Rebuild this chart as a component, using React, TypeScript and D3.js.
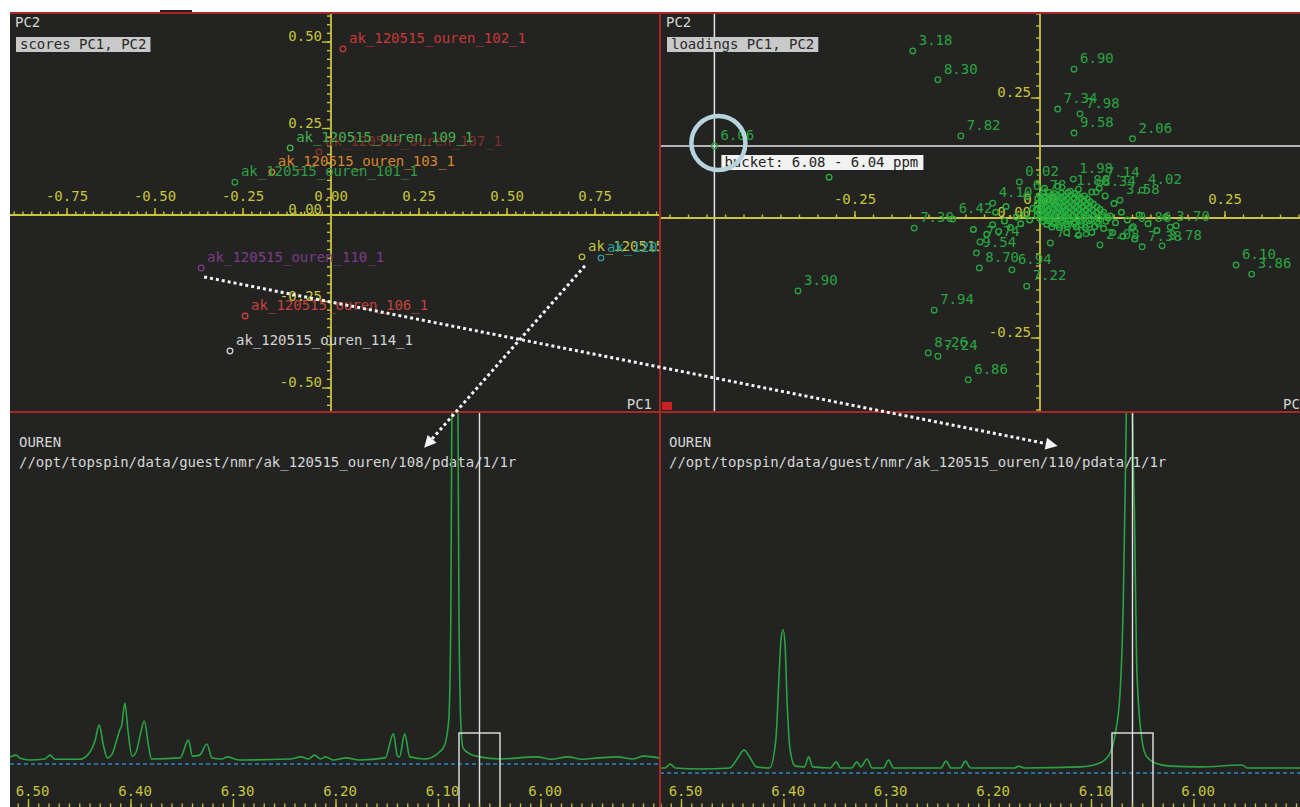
import React from "react";
import * as d3 from "d3";

// ---------- PCA scores (PC1 / PC2) ----------
const sampleNames = [
  "ak_120515_ouren_107_1",
  "ak_120515_ouren_102_1",
  "ak_120515_ouren_109_1",
  "ak_120515_ouren_103_1",
  "ak_120515_ouren_101_1",
  "ak_120515_ouren_110_1",
  "ak_120515_ouren_106_1",
  "ak_120515_ouren_114_1",
  "ak_120515_ouren_108_1",
  "ak_120515_ouren_105_1",
];
const scorePC1 = [-0.034, 0.034, -0.116, -0.168, -0.273, -0.369, -0.244, -0.287, 0.713, 0.767];
const scorePC2 = [0.182, 0.48, 0.194, 0.124, 0.095, -0.153, -0.292, -0.393, -0.121, -0.124];

// ---------- PCA loadings (labelled buckets, ppm) ----------
const loadingLabels = [
  "3.18", "8.30", "7.82", "6.06", "6.90", "7.34", "7.98", "9.58", "2.06",
  "7.30", "6.42", "3.90", "7.94", "8.26", "7.24", "6.86", "6.10", "3.86",
  "7.22", "6.94", "9.54", "8.70", "7.74", "0.02", "1.98", "4.10", "6.78",
  "1.86", "7.14", "8.34", "4.02", "3.58", "3.70", "0.86", "2.08", "7.38",
  "3.78", "7.28",
];
const loadingPC1 = [
  -0.172, -0.138, -0.107, -0.44, 0.046, 0.024, 0.054, 0.046, 0.125,
  -0.17, -0.118, -0.327, -0.143, -0.151, -0.138, -0.097, 0.265, 0.286,
  -0.018, -0.038, -0.086, -0.082, -0.081, -0.028, 0.045, -0.064, -0.018,
  0.041, 0.081, 0.076, 0.138, 0.108, 0.176, 0.124, 0.081, 0.138,
  0.165, 0.014,
];
const loadingPC2 = [
  0.348, 0.288, 0.171, 0.15, 0.31, 0.227, 0.217, 0.177, 0.165,
  -0.021, -0.002, -0.152, -0.192, -0.281, -0.288, -0.337, -0.098, -0.117,
  -0.142, -0.108, -0.073, -0.104, -0.05, 0.075, 0.081, 0.031, 0.046,
  0.056, 0.073, 0.054, 0.058, 0.037, -0.019, -0.021, -0.056, -0.06,
  -0.058, -0.052,
];

// unlabelled buckets crowding the origin
const bucketLoadings: [number, number][] = [
  [-0.285, 0.085],
  // dense core
  [0.004, 0.052], [0.012, 0.053], [0.02, 0.051], [0.029, 0.052], [0.038, 0.053], [0.047, 0.051],
  [0.0, 0.047], [0.008, 0.046], [0.016, 0.048], [0.024, 0.047], [0.033, 0.046], [0.042, 0.048], [0.051, 0.047], [0.06, 0.046],
  [-0.003, 0.041], [0.005, 0.042], [0.013, 0.04], [0.021, 0.041], [0.029, 0.042], [0.037, 0.04], [0.046, 0.041], [0.055, 0.042], [0.064, 0.04],
  [0.001, 0.035], [0.009, 0.036], [0.017, 0.034], [0.025, 0.035], [0.033, 0.036], [0.041, 0.034], [0.05, 0.035], [0.059, 0.036], [0.068, 0.034],
  [-0.004, 0.029], [0.004, 0.03], [0.012, 0.028], [0.02, 0.029], [0.028, 0.03], [0.036, 0.028], [0.045, 0.029], [0.054, 0.03], [0.063, 0.028], [0.072, 0.029],
  [0.0, 0.023], [0.008, 0.024], [0.016, 0.022], [0.024, 0.023], [0.032, 0.024], [0.04, 0.022], [0.049, 0.023], [0.058, 0.024], [0.067, 0.022], [0.077, 0.023],
  [-0.005, 0.017], [0.003, 0.018], [0.011, 0.016], [0.019, 0.017], [0.027, 0.018], [0.035, 0.016], [0.044, 0.017], [0.053, 0.018], [0.062, 0.016], [0.071, 0.017], [0.081, 0.018],
  [-0.001, 0.011], [0.007, 0.012], [0.015, 0.01], [0.023, 0.011], [0.031, 0.012], [0.039, 0.01], [0.048, 0.011], [0.057, 0.012], [0.066, 0.01], [0.076, 0.011], [0.086, 0.012],
  [-0.004, 0.005], [0.004, 0.006], [0.012, 0.004], [0.02, 0.005], [0.028, 0.006], [0.036, 0.004], [0.045, 0.005], [0.054, 0.006], [0.063, 0.004], [0.073, 0.005], [0.084, 0.006],
  [0.0, -0.001], [0.008, 0.0], [0.016, -0.002], [0.024, -0.001], [0.032, 0.0], [0.041, -0.002], [0.05, -0.001], [0.059, 0.0], [0.069, -0.002], [0.08, -0.001], [0.092, 0.0],
  [0.004, -0.007], [0.012, -0.006], [0.02, -0.008], [0.029, -0.007], [0.038, -0.006], [0.047, -0.008], [0.056, -0.007], [0.066, -0.006], [0.077, -0.008], [0.089, -0.007],
  [0.009, -0.013], [0.018, -0.012], [0.027, -0.014], [0.036, -0.013], [0.046, -0.012], [0.056, -0.014], [0.067, -0.013], [0.079, -0.012],
  [0.016, -0.019], [0.026, -0.02], [0.037, -0.018], [0.049, -0.019], [0.061, -0.02], [0.074, -0.018],
  // sparser spread to the right and below
  [0.095, 0.004], [0.102, -0.01], [0.11, 0.012], [0.118, -0.004], [0.126, -0.018], [0.134, 0.006], [0.146, -0.012],
  [0.158, -0.026], [0.17, 0.002], [0.184, -0.016], [0.098, -0.03], [0.112, -0.038], [0.128, -0.044], [0.086, -0.022],
  [0.07, -0.03], [0.052, -0.036], [0.036, -0.03],
  // left fringe
  [-0.01, 0.02], [-0.014, -0.004], [-0.02, 0.008], [-0.026, -0.012], [-0.032, 0.002], [-0.04, -0.02], [-0.048, -0.006],
  [-0.056, -0.028], [-0.064, -0.014], [-0.072, -0.034], [-0.09, -0.024], [-0.046, 0.024], [-0.06, 0.012],
  // upper fringe
  [0.006, 0.062], [0.024, 0.066], [0.052, 0.06], [0.07, 0.054], [0.088, 0.046], [0.1, 0.03], [0.08, 0.062],
];

// ---------- axis ticks ----------
const scoreXTicks = [-0.75, -0.5, -0.25, 0, 0.25, 0.5, 0.75];
const scoreYTicks = [-0.5, -0.25, 0, 0.25, 0.5];
const loadingXTicks = [-0.25, 0, 0.25];
const loadingYTicks = [-0.25, 0, 0.25];
const ppmTicks = [6.5, 6.4, 6.3, 6.2, 6.1, 6.0];

// selected bucket (ppm)
const bucketFrom = 6.08;
const bucketTo = 6.04;
const bucketCentre = 6.06;
const bucketLabel = "6.06";

// ---------- 1D 1H spectra, [ppm, intensity] ----------
const spectrum108: [number, number][] = [
  [6.52, 0.6], [6.512, 1.4], [6.508, 0.5], [6.499, 0], [6.484, 0.3], [6.479, 1.4], [6.474, 0.2], [6.45, 0.2],
  [6.44, 2.3], [6.435, 5.7], [6.431, 10.1], [6.427, 4.3], [6.423, 0.6], [6.419, 1.4], [6.414, 5.7], [6.411, 8.6],
  [6.409, 10.1], [6.406, 16.4], [6.403, 8.6], [6.399, 1.1], [6.395, 2.3], [6.391, 7.2], [6.387, 11.2], [6.383, 4.3],
  [6.38, 0.3], [6.352, 0.6], [6.344, 5.7], [6.34, 1.1], [6.333, 1.4], [6.326, 4.6], [6.321, 0.6], [6.311, 0.3],
  [6.306, 0.9], [6.294, 0], [6.245, 0.3], [6.234, 0.9], [6.227, 0.3], [6.221, 1.4], [6.215, 0.3], [6.21, 0.9],
  [6.203, 0], [6.19, 0.6], [6.177, 0], [6.152, 0.6], [6.144, 7.5], [6.14, 1.1], [6.138, 0.9], [6.133, 7.5],
  [6.128, 0.9], [6.113, 0.3], [6.099, 2.3], [6.094, 4.3], [6.09, 11.5], [6.088, 40], [6.087, 100], [6.085, 170],
  [6.083, 170], [6.081, 100], [6.08, 40], [6.078, 9], [6.076, 3.4], [6.069, 1.7], [6.06, 0.9], [6.04, 0.3],
  [6.004, 0.9], [5.99, 0.2], [5.974, 0.9], [5.96, 0.2], [5.944, 0.6], [5.926, 0.9], [5.91, 0.3], [5.9, 1.1], [5.88, 0.3],
];
const spectrum110: [number, number][] = [
  [6.522, 0.3], [6.516, 0.3], [6.511, 1.4], [6.506, 0.3], [6.482, 0], [6.453, 0.3], [6.445, 3.1], [6.439, 5.3],
  [6.433, 3.1], [6.427, 0.6], [6.414, 0.3], [6.408, 8.1], [6.405, 25], [6.403, 36], [6.401, 39], [6.399, 35],
  [6.397, 19], [6.394, 5.3], [6.389, 0.8], [6.38, 0.6], [6.376, 3.4], [6.372, 0.6], [6.355, 0.3], [6.349, 2],
  [6.345, 0.3], [6.334, 0.3], [6.329, 2], [6.325, 0.6], [6.319, 2.8], [6.314, 0.3], [6.303, 0.3], [6.298, 2.5],
  [6.293, 0.3], [6.247, 0.3], [6.242, 2.2], [6.237, 0.3], [6.228, 0.3], [6.223, 2.2], [6.218, 0.3], [6.175, 0.3],
  [6.171, 0.8], [6.166, 0.3], [6.111, 0.6], [6.092, 1.7], [6.083, 3.9], [6.077, 9.5], [6.072, 22], [6.069, 47],
  [6.067, 81], [6.066, 100], [6.064, 170], [6.062, 170], [6.06, 100], [6.058, 70], [6.056, 30], [6.052, 11],
  [6.047, 3.9], [6.038, 1.7], [6.023, 0.8], [5.994, 0.6], [5.953, 1.1], [5.948, 0.3], [5.9, 0.3], [5.876, 0.3],
];

// links from a score point down into its spectrum
const links = [
  { sample: "ak_120515_ouren_110_1", spectrum: "110", ppm: 6.133, intensity: 90.5 },
  { sample: "ak_120515_ouren_108_1", spectrum: "108", ppm: 6.114, intensity: 89.7 },
];

// ---------- styling ----------
const W = 1300;
const H = 807;
const LEFT = 10;
const TOP = 13;
const MID_X = 660;
const MID_Y = 412;
const FONT = "'DejaVu Sans Mono', 'Liberation Mono', monospace";
const BG = "#232421";
const AXIS = "#c8c63c";
const FRAME = "#a82828";
const GREEN = "#2aa442";
const TEXT = "#d6d6d6";

const sampleColour: Record<string, string> = {
  "107": "#7e302d",
  "102": "#c8383a",
  "109": "#44b050",
  "103": "#d9862c",
  "101": "#2f9e46",
  "110": "#7c3c88",
  "106": "#c8403e",
  "114": "#d4d4d4",
  "108": "#c2c23a",
  "105": "#2a9ea2",
};
const sampleId = (n: string) => n.split("_")[3];
const fmt = (v: number) => (Math.abs(v) < 1e-9 ? "0.00" : v.toFixed(2));

type Scale = d3.ScaleLinear<number, number>;

function PcaAxes(props: {
  x: Scale; y: Scale; left: number; right: number; top: number; bottom: number;
  xTicks: number[]; yTicks: number[];
}) {
  const { x, y, left, right, top, bottom, xTicks, yTicks } = props;
  const x0 = x(0);
  const y0 = y(0);
  const minor = d3.range(-40, 41).map((i) => i * 0.025);
  const inX = (v: number) => x(v) >= left && x(v) <= right;
  const inY = (v: number) => y(v) >= top && y(v) <= bottom;
  return (
    <g stroke={AXIS} strokeWidth={1.4}>
      <line x1={left} x2={right} y1={y0} y2={y0} strokeWidth={1.8} />
      <line x1={x0} x2={x0} y1={top} y2={bottom} strokeWidth={1.8} />
      {minor.filter(inX).map((v) => (
        <line key={"mx" + v} x1={x(v)} x2={x(v)} y1={y0} y2={y0 - 3.5} />
      ))}
      {minor.filter(inY).map((v) => (
        <line key={"my" + v} x1={x0} x2={x0 - 4} y1={y(v)} y2={y(v)} />
      ))}
      {xTicks.map((v) => (
        <g key={"tx" + v}>
          <line x1={x(v)} x2={x(v)} y1={y0} y2={y0 - 7} />
          <text x={x(v)} y={y0 - 14} textAnchor="middle" fill={AXIS} stroke="none"
            fontFamily={FONT} fontSize={14}>{fmt(v)}</text>
        </g>
      ))}
      {yTicks.map((v) => (
        <g key={"ty" + v}>
          <line x1={x0 - 9} x2={x0} y1={y(v)} y2={y(v)} />
          <text x={x0 - 9} y={y(v) - 1} textAnchor="end" fill={AXIS} stroke="none"
            fontFamily={FONT} fontSize={14}>{fmt(v)}</text>
        </g>
      ))}
    </g>
  );
}

function TitleBox({ x, y, label }: { x: number; y: number; label: string }) {
  return (
    <g fontFamily={FONT} fontSize={14}>
      <text x={x - 1} y={y - 10} fill={TEXT}>PC2</text>
      <rect x={x} y={y} width={label.length * 8.43 + 8} height={15} fill="#c9c9c9" />
      <text x={x + 4} y={y + 12} fill="#2a2a2a">{label}</text>
    </g>
  );
}

function SpectrumPanel(props: {
  data: [number, number][]; x: Scale; y: Scale; left: number; right: number; id: string;
}) {
  const { data, x, y, left, right, id } = props;
  const line = d3.line<[number, number]>()
    .x((d) => x(d[0]))
    .y((d) => y(d[1]))
    .curve(d3.curveMonotoneX);
  const minor = d3.range(570, 670).map((i) => i / 100).filter((v) => x(v) >= left && x(v) <= right);
  const base = y(0) + 4;
  const bx0 = x(bucketFrom);
  const bx1 = x(bucketTo);
  return (
    <g>
      <g fontFamily={FONT} fontSize={14} fill={TEXT}>
        <text x={left + 9} y={MID_Y + 35}>OUREN</text>
        <text x={left + 9} y={MID_Y + 55}>{`//opt/topspin/data/guest/nmr/ak_120515_ouren/${id}/pdata/1/1r`}</text>
      </g>
      <line x1={left} x2={right} y1={base} y2={base} stroke="#2a86c0" strokeWidth={1.6} strokeDasharray="4 3" />
      <path d={line(data) || ""} fill="none" stroke={GREEN} strokeWidth={1.6} />
      <line x1={x(bucketCentre)} x2={x(bucketCentre)} y1={MID_Y} y2={H} stroke="#e4e4e4" strokeWidth={1.4} />
      <rect x={bx0} y={H - 74} width={bx1 - bx0} height={80} fill="none" stroke="#e4e4e4" strokeWidth={1.4} />
      <g stroke={AXIS} strokeWidth={1.3}>
        {minor.map((v) => (
          <line key={"m" + v} x1={x(v)} x2={x(v)} y1={H} y2={H - 3.5} />
        ))}
        {ppmTicks.map((v) => (
          <line key={"M" + v} x1={x(v)} x2={x(v)} y1={H} y2={H - 8} />
        ))}
      </g>
      {ppmTicks.map((v) => (
        <text key={"l" + v} x={x(v) + 4} y={H - 11} textAnchor="middle" fill={AXIS}
          fontFamily={FONT} fontSize={14}>{v.toFixed(2)}</text>
      ))}
    </g>
  );
}

export default function App() {
  // scores panel scales
  const xS = d3.scaleLinear().domain([-1, 1]).range([-21, 683]);
  const yS = d3.scaleLinear().domain([-1, 1]).range([561, -131]);
  // loadings panel scales
  const xL = d3.scaleLinear().domain([-1, 1]).range([300, 1780]);
  const yL = d3.scaleLinear().domain([-1, 1]).range([698, -262]);
  // spectra scales
  const x108 = d3.scaleLinear().domain([6.5, 6.0]).range([28.5, 541]);
  const y108 = d3.scaleLinear().domain([0, 100]).range([760, 412]);
  const x110 = d3.scaleLinear().domain([6.5, 6.0]).range([681.5, 1194]);
  const y110 = d3.scaleLinear().domain([0, 100]).range([769, 412]);

  const sel = loadingLabels.indexOf(bucketLabel);
  const selX = xL(loadingPC1[sel]);
  const selY = yL(loadingPC2[sel]);

  const arrows = links.map((l) => {
    const i = sampleNames.indexOf(l.sample);
    const sx = xS(scorePC1[i]) + 3;
    const sy = yS(scorePC2[i]) + 9;
    const ex = l.spectrum === "110" ? x110(l.ppm) : x108(l.ppm);
    const ey = l.spectrum === "110" ? y110(l.intensity) : y108(l.intensity);
    const len = Math.hypot(ex - sx, ey - sy);
    const ux = (ex - sx) / len;
    const uy = (ey - sy) / len;
    const hx = ex - ux * 12;
    const hy = ey - uy * 12;
    const head = `M${ex},${ey}L${hx - uy * 6},${hy + ux * 6}L${hx + uy * 6},${hy - ux * 6}Z`;
    return { sx, sy, hx, hy, head, key: l.sample };
  });

  return (
    <div style={{ position: "absolute", left: 0, top: 0 }}>
      <svg width={W} height={H} viewBox={`0 0 ${W} ${H}`} style={{ display: "block" }}>
        <defs>
          <clipPath id="clipScores"><rect x={LEFT} y={TOP} width={MID_X - LEFT} height={MID_Y - TOP} /></clipPath>
          <clipPath id="clipLoadings"><rect x={MID_X} y={TOP} width={W - MID_X} height={MID_Y - TOP} /></clipPath>
          <clipPath id="clipSpec108"><rect x={LEFT} y={MID_Y} width={MID_X - LEFT} height={H - MID_Y} /></clipPath>
          <clipPath id="clipSpec110"><rect x={MID_X} y={MID_Y} width={W - MID_X} height={H - MID_Y} /></clipPath>
        </defs>
        <rect width={W} height={H} fill="#ffffff" />
        <rect x={160} y={10} width={32} height={2} fill="#202020" />
        <rect x={LEFT} y={TOP} width={W - LEFT} height={H - TOP} fill={BG} />

        {/* scores PC1 / PC2 */}
        <g clipPath="url(#clipScores)">
          <PcaAxes x={xS} y={yS} left={LEFT} right={MID_X} top={TOP} bottom={MID_Y}
            xTicks={scoreXTicks} yTicks={scoreYTicks} />
          {sampleNames.map((n, i) => {
            const c = sampleColour[sampleId(n)];
            const px = xS(scorePC1[i]);
            const py = yS(scorePC2[i]);
            return (
              <g key={n}>
                <circle cx={px} cy={py} r={2.8} fill="none" stroke={c} strokeWidth={1.3} />
                <text x={px + 6} y={py - 6} fill={c} fontFamily={FONT} fontSize={14}>{n}</text>
              </g>
            );
          })}
          <TitleBox x={16} y={37} label="scores PC1, PC2" />
          <text x={652} y={409} textAnchor="end" fill={TEXT} fontFamily={FONT} fontSize={14}>PC1</text>
        </g>

        {/* loadings PC1 / PC2 */}
        <g clipPath="url(#clipLoadings)">
          <line x1={MID_X} x2={W} y1={selY} y2={selY} stroke="#e4e4e4" strokeWidth={1.5} />
          <line x1={selX} x2={selX} y1={TOP} y2={MID_Y} stroke="#e4e4e4" strokeWidth={1.5} />
          <PcaAxes x={xL} y={yL} left={MID_X} right={W} top={TOP} bottom={MID_Y}
            xTicks={loadingXTicks} yTicks={loadingYTicks} />
          {bucketLoadings.map((d, i) => (
            <circle key={"b" + i} cx={xL(d[0])} cy={yL(d[1])} r={2.8} fill="none" stroke="#24b03e" strokeWidth={1.4} />
          ))}
          {loadingLabels.map((lab, i) => (
            <g key={"l" + i}>
              <circle cx={xL(loadingPC1[i])} cy={yL(loadingPC2[i])} r={2.8} fill="none" stroke={GREEN} strokeWidth={1.3} />
              <text x={xL(loadingPC1[i]) + 6} y={yL(loadingPC2[i]) - 6} fill={GREEN}
                fontFamily={FONT} fontSize={14}>{lab}</text>
            </g>
          ))}
          <rect x={selX + 7} y={selY + 9} width={202} height={15} fill="#f2f2f2" />
          <text x={selX + 10} y={selY + 21} fill="#222" fontFamily={FONT} fontSize={14}>
            {`bucket: ${bucketFrom.toFixed(2)} - ${bucketTo.toFixed(2)} ppm`}
          </text>
          <circle cx={selX + 4} cy={selY - 3} r={27} fill="none" stroke="#b6d3de" strokeWidth={4.5} />
          <TitleBox x={667} y={37} label="loadings PC1, PC2" />
          <text x={1283} y={409} fill={TEXT} fontFamily={FONT} fontSize={14}>PC1</text>
          <rect x={MID_X + 2} y={MID_Y - 10} width={10} height={8} fill="#c82222" />
        </g>

        {/* spectra */}
        <g clipPath="url(#clipSpec108)">
          <SpectrumPanel data={spectrum108} x={x108} y={y108} left={LEFT} right={MID_X} id="108" />
        </g>
        <g clipPath="url(#clipSpec110)">
          <SpectrumPanel data={spectrum110} x={x110} y={y110} left={MID_X} right={W} id="110" />
        </g>

        {/* panel frame */}
        <line x1={LEFT} x2={W} y1={TOP} y2={TOP} stroke={FRAME} strokeWidth={2} />
        <line x1={LEFT} x2={W} y1={MID_Y} y2={MID_Y} stroke={FRAME} strokeWidth={2} />
        <line x1={MID_X} x2={MID_X} y1={TOP} y2={H} stroke={FRAME} strokeWidth={2} />

        {/* dotted links */}
        {arrows.map((a) => (
          <g key={a.key}>
            <line x1={a.sx} y1={a.sy} x2={a.hx} y2={a.hy} stroke="#f4f4f4" strokeWidth={3} strokeDasharray="3 3" />
            <path d={a.head} fill="#f4f4f4" />
          </g>
        ))}
      </svg>
    </div>
  );
}
